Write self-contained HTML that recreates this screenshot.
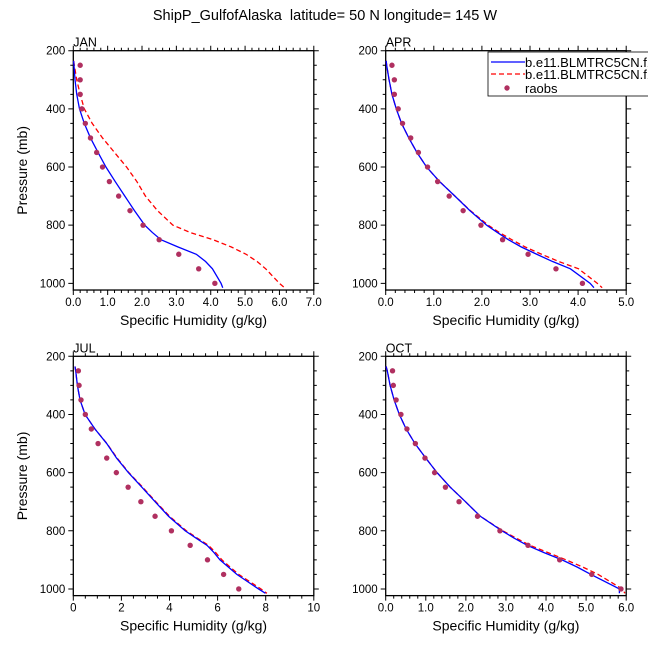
<!DOCTYPE html>
<html><head><meta charset="utf-8"><style>
body{margin:0;background:#fff}
svg{display:block;font-family:"Liberation Sans",sans-serif}
</style></head><body>
<svg id="c" width="648" height="649" viewBox="0 0 648 649">
<text x="325" y="20" text-anchor="middle" font-size="14.5" style="white-space:pre">ShipP_GulfofAlaska  latitude= 50 N longitude= 145 W</text>
</svg>
<script>
const months=["JAN","APR","JUL","OCT"];
const xMaxes=[7,5,10,6];
const xMajor=[1,1,2,1];
const xMinor=[0.2,0.2,0.5,0.2];
const xDec=[1,1,0,1];
const pTicks=[200,400,600,800,1000];
const raobP=[250,300,350,400,450,500,550,600,650,700,750,800,850,900,950,1000];
const raobJAN=[0.2,0.2,0.2,0.25,0.35,0.5,0.68,0.85,1.05,1.32,1.65,2.03,2.5,3.07,3.65,4.12];
const raobAPR=[0.13,0.18,0.18,0.26,0.35,0.52,0.68,0.87,1.08,1.32,1.61,1.98,2.43,2.96,3.54,4.09];
const raobJUL=[0.21,0.24,0.32,0.5,0.75,1.03,1.39,1.79,2.28,2.81,3.4,4.08,4.86,5.58,6.25,6.88];
const raobOCT=[0.17,0.19,0.26,0.38,0.53,0.74,0.98,1.22,1.49,1.83,2.29,2.85,3.55,4.34,5.14,5.87];
const modP=[235,250,300,350,400,450,500,550,600,650,700,750,800,825,850,875,900,925,950,1000,1015];
const blueJAN=[0.01,0.02,0.05,0.1,0.18,0.32,0.5,0.72,0.95,1.22,1.5,1.78,2.08,2.3,2.55,3.05,3.58,3.85,4.05,4.3,4.35];
const redJAN=[0.01,0.03,0.1,0.2,0.32,0.55,0.85,1.2,1.55,1.85,2.1,2.45,2.9,3.4,4.07,4.6,5.03,5.35,5.6,6.0,6.15];
const blueAPR=[0.01,0.02,0.07,0.13,0.22,0.33,0.48,0.65,0.85,1.12,1.44,1.75,2.1,2.32,2.55,2.82,3.14,3.47,3.84,4.25,4.33];
const redAPR=[0.01,0.02,0.07,0.13,0.22,0.33,0.48,0.65,0.85,1.12,1.44,1.76,2.13,2.36,2.62,2.9,3.24,3.6,4.01,4.4,4.5];
const blueJUL=[0.07,0.1,0.17,0.28,0.49,0.9,1.39,1.8,2.29,2.85,3.4,3.96,4.65,5.1,5.56,5.85,6.1,6.45,6.8,7.7,7.99];
const redJUL=[0.07,0.1,0.17,0.28,0.49,0.9,1.4,1.82,2.31,2.88,3.43,4.0,4.7,5.15,5.62,5.92,6.18,6.52,6.88,7.8,8.05];
const blueOCT=[0.01,0.04,0.11,0.21,0.34,0.51,0.73,1.0,1.28,1.61,1.99,2.36,2.9,3.2,3.53,3.95,4.4,4.78,5.12,5.83,5.83];
const redOCT=[0.01,0.04,0.11,0.21,0.34,0.51,0.73,1.0,1.28,1.61,1.99,2.36,2.92,3.25,3.6,4.05,4.5,4.92,5.3,5.9,5.97];
const raobs=[raobJAN,raobAPR,raobJUL,raobOCT];
const blues=[blueJAN,blueAPR,blueJUL,blueOCT];
const reds=[redJAN,redAPR,redJUL,redOCT];

const svg=document.getElementById('c');
const NS="http://www.w3.org/2000/svg";
function mk(tag,attrs,parent){const e=document.createElementNS(NS,tag);for(const k in attrs)e.setAttribute(k,attrs[k]);(parent||svg).appendChild(e);return e;}
const lefts=[73.3,385.7,73.3,385.7], tops=[50.7,50.7,356.3,356.3];
const W=240.5, PMIN=200, PMAX=1023, PXPERMB=0.2908;
for(let i=0;i<4;i++){
  const L=lefts[i],T=tops[i],xm=xMaxes[i];
  const X=v=>L+v/xm*W;
  const Y=p=>T+(p-PMIN)*PXPERMB;
  const B=Y(PMAX);
  const g=mk('g',{});
  
  
  const lab=mk('text',{x:L,y:T-4,'font-size':12.5},g);lab.textContent=months[i];
  
  
  let ticks='';
  const nMin=Math.round(xm/xMinor[i]);
  for(let k=0;k<=nMin;k++){const v=k*xMinor[i];const x=X(v);const maj=Math.abs(v/xMajor[i]-Math.round(v/xMajor[i]))<1e-6;const l=maj?5:3;
    ticks+=`M${x} ${T}v${-l}M${x} ${B}v${l}`;
    if(maj){const t=mk('text',{x:x,y:B+16,'text-anchor':'middle','font-size':11.5},g);t.textContent=v.toFixed(xDec[i]);
      
      }}
  for(let p=200;p<=1000;p+=50){const y=Y(p);const maj=p%200===0;const l=maj?5:3;
    ticks+=`M${L} ${y}h${-l}M${L+W} ${y}h${l}`;}
  pTicks.forEach(p=>{const t=mk('text',{x:L-8,y:Y(p)+4,'text-anchor':'end','font-size':11.5},g);t.textContent=p;
    
    });
  const tk=mk('path',{d:ticks,stroke:'#000','stroke-width':1,fill:'none'},g);
  
  
  const fr=mk('rect',{x:L,y:T,width:W,height:B-T,fill:'none',stroke:'#000','stroke-width':1.3},g);
  
  
  const xt=mk('text',{x:L+W/2,y:B+35,'text-anchor':'middle','font-size':14},g);xt.textContent='Specific Humidity (g/kg)';
  
  
  if(i%2===0){const yt=mk('text',{x:0,y:0,'text-anchor':'middle','font-size':14,transform:`translate(27,${(T+B)/2}) rotate(-90)`},g);yt.textContent='Pressure (mb)';
    
    }
  const rl=mk('polyline',{points:modP.map((p,k)=>X(reds[i][k])+','+Y(p)).join(' '),fill:'none',stroke:'#ff0000','stroke-width':1.3,'stroke-dasharray':'5,3'},g);
  
  
  const bl=mk('polyline',{points:modP.map((p,k)=>X(blues[i][k])+','+Y(p)).join(' '),fill:'none',stroke:'#0000ff','stroke-width':1.3},g);
  
  
  raobP.forEach((p,k)=>{const c=mk('circle',{cx:X(raobs[i][k]),cy:Y(p),r:2.7,fill:'#b03060'},g);
    
    });
}
const lg=mk('g',{});


mk('rect',{x:488,y:52,width:170,height:44,fill:'#fff',stroke:'#000','stroke-width':0.8},lg);
mk('line',{x1:491,y1:62,x2:525,y2:62,stroke:'#0000ff','stroke-width':1.3},lg);
mk('line',{x1:491,y1:74,x2:525,y2:74,stroke:'#ff0000','stroke-width':1.3,'stroke-dasharray':'5,3'},lg);
mk('circle',{cx:507,cy:88,r:2.7,fill:'#b03060'},lg);
[['b.e11.BLMTRC5CN.f1',67],['b.e11.BLMTRC5CN.f1',79],['raobs',93]].forEach(([s,y])=>{const t=mk('text',{x:525,y:y,'font-size':13},lg);t.textContent=s;
  
  });
</script>
</body></html>
